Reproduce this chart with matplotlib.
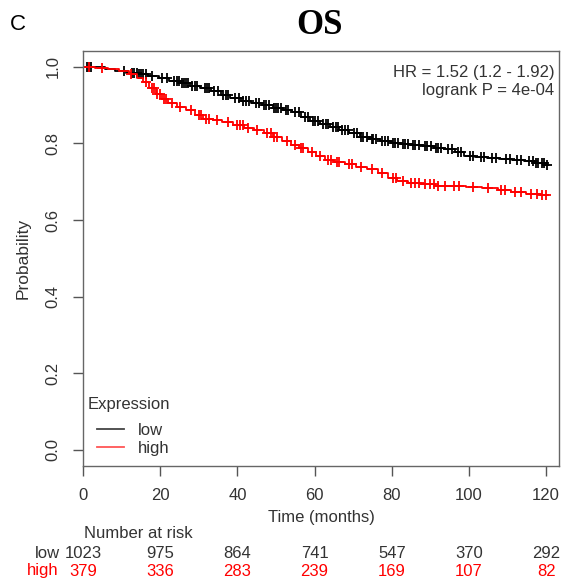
import numpy as np
import matplotlib
matplotlib.use("Agg")
import matplotlib.pyplot as plt
import matplotlib.transforms as mtransforms

plt.rcParams['font.family'] = ['Liberation Sans', 'DejaVu Sans']

# Kaplan-Meier steps (time in months, survival after the step)
low_t = [0, 2.5, 5.8, 8.4, 11.2, 14.1, 16.9, 19.6, 22.3, 25.0, 27.8, 30.4, 33.1, 35.7,
         38.2, 41.0, 43.6, 46.3, 49.1, 51.8, 54.2, 56.5, 58.8, 61.3, 63.9, 66.4, 69.0,
         71.7, 74.3, 77.0, 79.8, 82.5, 85.3, 88.1, 91.0, 93.6, 96.4, 98.8, 101.5, 104.7,
         107.9, 111.2, 114.3, 117.2, 119.6]
low_s = [1.0, 0.999, 0.995, 0.990, 0.985, 0.980, 0.975, 0.970, 0.964, 0.957, 0.951,
         0.945, 0.937, 0.927, 0.919, 0.912, 0.906, 0.899, 0.893, 0.888, 0.881, 0.870,
         0.858, 0.850, 0.842, 0.834, 0.826, 0.818, 0.811, 0.806, 0.802, 0.799, 0.796,
         0.792, 0.788, 0.785, 0.778, 0.768, 0.764, 0.762, 0.760, 0.757, 0.754, 0.750,
         0.743]
high_t = [0, 3.2, 6.5, 9.3, 11.8, 13.9, 15.6, 17.2, 18.8, 20.4, 22.1, 24.3, 26.7, 29.0,
          31.2, 33.6, 36.1, 38.9, 41.6, 44.3, 46.8, 49.3, 51.6, 53.9, 56.0, 58.2, 60.4,
          62.8, 65.1, 67.9, 70.6, 73.5, 76.3, 78.9, 81.4, 84.2, 87.5, 91.2, 95.0, 99.1,
          103.4, 107.6, 111.0, 114.8, 118.4]
high_s = [1.0, 0.998, 0.994, 0.988, 0.980, 0.970, 0.960, 0.945, 0.930, 0.915, 0.905,
          0.896, 0.887, 0.875, 0.865, 0.860, 0.855, 0.848, 0.841, 0.835, 0.827, 0.817,
          0.807, 0.797, 0.788, 0.777, 0.766, 0.757, 0.751, 0.745, 0.739, 0.734, 0.722,
          0.710, 0.701, 0.697, 0.693, 0.690, 0.688, 0.686, 0.683, 0.678, 0.673, 0.668,
          0.665]

# censoring times (+ marks)
low_cens = [1.0, 1.6, 2.2, 10.5, 12.8, 13.3, 13.9, 14.4, 15.0, 15.6, 16.2, 18.0, 20.5,
            21.8, 23.5, 24.3, 24.9, 25.6, 26.2, 26.8, 27.3, 28.2, 28.9, 29.5, 31.5, 32.0,
            32.6, 34.0, 35.0, 36.4, 37.0, 37.6, 39.5, 40.3, 41.5, 42.2, 43.0, 44.8, 45.5,
            46.8, 47.4, 48.2, 49.5, 50.0, 50.6, 51.2, 52.5, 53.2, 55.0, 56.0, 57.4, 58.2,
            59.5, 60.2, 60.9, 62.2, 63.0, 63.6, 64.7, 65.5, 66.1, 67.2, 68.0, 68.6, 70.2,
            71.0, 72.0, 72.6, 73.5, 74.8, 75.2, 76.0, 77.5, 78.2, 79.0, 80.3, 80.8, 81.6,
            83.0, 83.4, 84.2, 85.6, 86.1, 87.0, 88.5, 89.0, 90.1, 91.5, 92.0, 92.8, 94.5,
            95.5, 97.2, 98.0, 100.2, 101.0, 103.0, 104.0, 106.0, 107.0, 109.5, 110.5,
            112.5, 113.5, 115.5, 116.5, 117.4, 118.0, 118.8, 119.4, 120.2]
high_cens = [1.5, 5.0, 12.5, 16.2, 17.8, 18.4, 19.2, 20.0, 21.0, 21.6, 23.0, 25.2, 28.0,
             30.0, 30.6, 31.8, 32.6, 34.8, 37.5, 40.0, 40.8, 41.4, 42.8, 45.2, 47.8,
             48.6, 49.6, 50.2, 52.8, 55.0, 56.4, 57.0, 59.2, 61.5, 63.5, 64.3, 65.7, 66.2,
             68.8, 69.6, 72.0, 74.8, 77.5, 80.2, 81.0, 82.8, 85.0, 86.0, 87.0, 88.5, 89.8,
             91.0, 92.0, 93.8, 96.0, 97.5, 101.0, 105.0, 108.2, 109.4, 112.0, 113.6,
             116.0, 117.6, 119.0, 120.0]

risk_times = [0, 20, 40, 60, 80, 100, 120]
risk_low = [1023, 975, 864, 741, 547, 370, 292]
risk_high = [379, 336, 283, 239, 169, 107, 82]

W, H = 568, 582
FS = 12
fig = plt.figure(figsize=(W / 100, H / 100), dpi=100)
ax = fig.add_axes([83 / W, 1 - 466 / H, (559.3 - 83) / W, (466 - 50.7) / H])

def draw_km(t, s, cens, color, label):
    t = np.array(t)
    s = np.array(s)
    tt = np.append(t, 120.4)
    ss = np.append(s, s[-1])
    line, = ax.step(tt, ss, where='post', color=color, lw=1.3, label=label)
    c = np.array(cens)
    idx = np.searchsorted(t, c, side='right') - 1
    ax.plot(c, s[idx], '+', color=color, ms=7.5, mew=1.3)
    return line

l1 = draw_km(low_t, low_s, low_cens, 'black', 'low')
l2 = draw_km(high_t, high_s, high_cens, 'red', 'high')

ax.set_xlim(0, 123.4)
ax.set_ylim(-0.042, 1.042)
ax.set_xticks(risk_times)
ax.set_yticks([0, 0.2, 0.4, 0.6, 0.8, 1.0])
ax.set_yticklabels(['0.0', '0.2', '0.4', '0.6', '0.8', '1.0'])
ax.tick_params(axis='both', direction='out', length=7, width=1.0,
               colors='#555555', labelcolor='#333333', labelsize=FS)
ax.tick_params(axis='x', pad=9)
ax.tick_params(axis='y', pad=9, labelrotation=90)
for lab in ax.get_yticklabels():
    lab.set_verticalalignment('center')
for sp in ax.spines.values():
    sp.set_color('#666666')
    sp.set_linewidth(1.0)

ax.set_xlabel('Time (months)', fontsize=FS, color='#333333', labelpad=5)
ax.set_ylabel('Probability', fontsize=12.5, color='#333333', labelpad=11)

leg = ax.legend(handles=[l1, l2], frameon=False, loc='lower left',
                bbox_to_anchor=(0.03, 0.024), fontsize=FS,
                handlelength=1.6, handletextpad=0.85, labelspacing=0.2,
                borderaxespad=0, borderpad=0)
for txt in leg.get_texts():
    txt.set_color('#333333')
leg.get_lines()[0].set_color('#444444')
leg.get_lines()[1].set_color('#ff5555')
ax.text((129 - 83) / 476.3, (466 - 404) / 415.3, 'Expression', transform=ax.transAxes,
        ha='center', va='center', fontsize=FS, color='#333333')

ax.text(0.99, 1 - (72 - 50.7) / 415.3, 'HR = 1.52 (1.2 - 1.92)', transform=ax.transAxes,
        ha='right', va='center', fontsize=FS, color='#333333')
ax.text(0.99, 1 - (90 - 50.7) / 415.3, 'logrank P = 4e-04', transform=ax.transAxes,
        ha='right', va='center', fontsize=FS, color='#333333')

fig.text(18 / W, 1 - 24 / H, 'C', fontsize=16, ha='center', va='center')
fig.text(320 / W, 1 - 25 / H, 'OS', fontsize=25, fontweight='bold',
         family='Liberation Serif', ha='center', va='center')

# number at risk table
fig.text(138 / W, 1 - 534 / H, 'Number at risk', fontsize=FS, color='#333333',
         ha='center', va='center')
trans = mtransforms.blended_transform_factory(ax.transData, fig.transFigure)
fig.text(60 / W, 1 - 553 / H, 'low', fontsize=FS, color='#333333', ha='right', va='center')
fig.text(58 / W, 1 - 571 / H, 'high', fontsize=FS, color='red', ha='right', va='center')
for t, a, b in zip(risk_times, risk_low, risk_high):
    ax.text(t, 1 - 553 / H, str(a), transform=trans, fontsize=FS, color='#333333',
            ha='center', va='center', clip_on=False)
    ax.text(t, 1 - 571 / H, str(b), transform=trans, fontsize=FS, color='red',
            ha='center', va='center', clip_on=False)

fig.savefig('out.png', dpi=100)
